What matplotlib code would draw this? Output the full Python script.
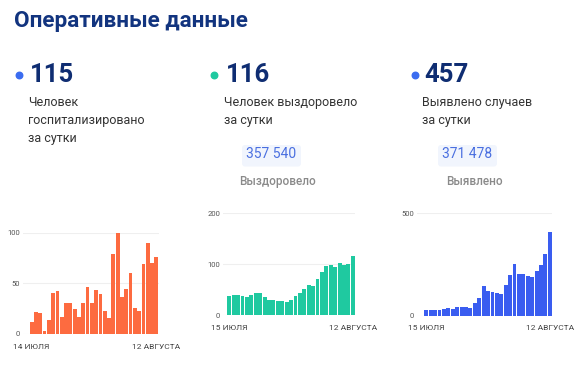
import matplotlib
matplotlib.use("Agg")
from matplotlib import pyplot as plt
from matplotlib.patches import FancyBboxPatch

plt.rcParams['font.family'] = ['Roboto', 'DejaVu Sans']

# data
hosp = [12, 22, 21, 3, 14, 40, 42, 17, 31, 31, 25, 17, 31, 46, 31,
        43, 39, 23, 16, 79, 100, 37, 44, 60, 26, 23, 69, 90, 70, 76]
recovered = [37, 39, 40, 37, 35, 40, 44, 44, 35, 30, 30, 28, 28, 25, 30,
             38, 44, 52, 59, 57, 71, 84, 97, 99, 94, 103, 98, 100, 116]
detected = [29, 28, 28, 26, 33, 36, 34, 42, 41, 41, 39, 60, 85, 147, 120,
            117, 112, 106, 150, 200, 251, 202, 204, 195, 187, 220, 246, 303, 410]

hosp_dates = ['14 ИЮЛЯ', '12 АВГУСТА']
other_dates = ['15 ИЮЛЯ', '12 АВГУСТА']

headline = ['115', '116', '457']
desc = [['Человек', 'госпитализировано', 'за сутки'],
        ['Человек выздоровело', 'за сутки'],
        ['Выявлено случаев', 'за сутки']]
totals = ['357 540', '371 478']
total_labels = ['Выздоровело', 'Выявлено']

W, H = 587, 376
fig = plt.figure(figsize=(W / 100, H / 100), dpi=100)
fig.patch.set_facecolor('white')

# overlay in pixel coords for the text block
top = fig.add_axes([0, 0, 1, 1])
top.set_xlim(0, W)
top.set_ylim(H, 0)
top.axis('off')

navy = '#0f2d72'
top.text(14, 27, 'Оперативные данные', fontsize=16.2, fontweight='bold',
         color='#12347f', va='baseline')

dot_x = [19, 214, 415]
num_x = [30, 226, 424]
dot_c = ['#3b6cf0', '#1fc9a0', '#3b6cf0']
for i in range(3):
    top.scatter([dot_x[i]], [74.5], s=22, color=dot_c[i], zorder=3)
    top.text(num_x[i], 81.7, headline[i], fontsize=18.5, fontweight='bold',
             color=navy, va='baseline')
    for j, line in enumerate(desc[i]):
        top.text(num_x[i] - 2, 105.7 + 18 * j, line, fontsize=9,
                 color='#333333', va='baseline')

box_x = [242, 438]
for i in range(2):
    top.add_patch(FancyBboxPatch((box_x[i], 145), 59, 21.5,
                                 boxstyle='round,pad=0,rounding_size=3',
                                 facecolor='#f1f5fd', edgecolor='none'))
    top.text(box_x[i] + 29.5, 158.5, totals[i], fontsize=10, color='#4a6fe0',
             va='baseline', ha='center')
    top.text(box_x[i] + 36, 185, total_labels[i], fontsize=8.5,
             color='#8a8a8a', fontweight='medium', va='baseline', ha='center')


def mini(vals, color, left, right, y0, ytop, ymax, ticks, dates, slot):
    ax = fig.add_axes([left / W, 1 - y0 / H, (right - left) / W, (y0 - ytop) / H])
    x = range(len(vals))
    ax.bar(x, vals, width=0.88, color=color, zorder=2)
    n = len(vals)
    bar_left = right - slot * n
    ax.set_xlim(-0.5 - (bar_left - left) / slot, n - 0.5)
    ax.set_ylim(0, ymax)
    ax.set_yticks(ticks)
    ax.set_yticklabels([str(t) for t in ticks], fontsize=5.5, color='#555555')
    ax.yaxis.grid(True, color='#efefef', linewidth=0.8, zorder=0)
    ax.set_xticks([0, n - 1])
    ax.set_xticklabels(dates, fontsize=6, color='#444444')
    ax.tick_params(length=0, pad=2)
    ax.tick_params(axis='x', pad=7)
    for s in ax.spines.values():
        s.set_visible(False)
    ax.set_facecolor('none')
    return ax


mini(hosp, '#fd6b40', 23, 158.5, 334, 232.7, 100, [0, 50, 100], hosp_dates, 4.3)
mini(recovered, '#1fc9a0', 223, 355, 315, 213.3, 200, [0, 100, 200], other_dates, 4.41)
mini(detected, '#3a5df0', 417, 552, 315.7, 213.3, 500, [0, 500], other_dates, 4.41)

fig.savefig('out.png', dpi=100)
